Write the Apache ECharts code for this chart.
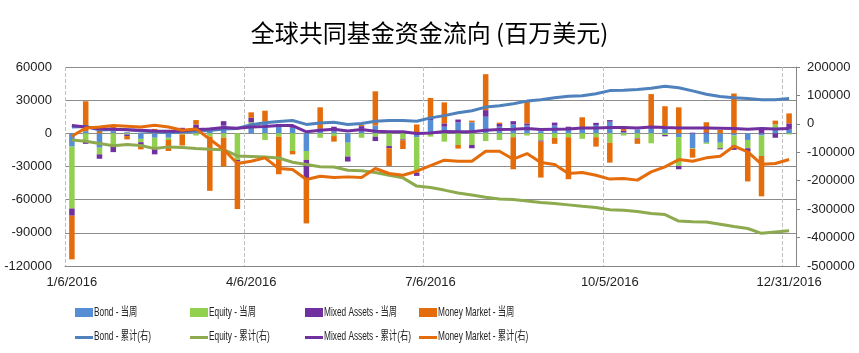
<!DOCTYPE html>
<html>
<head>
<meta charset="utf-8">
<script src="https://cdn.jsdelivr.net/npm/echarts@6/dist/echarts.min.js"></script>
<style>
html,body{margin:0;padding:0;background:#fff;}
#main{width:859px;height:353px;}
</style>
</head>
<body>
<div id="main"></div>
<script>
var dates = ['1/6/2016','1/13/2016','1/20/2016','1/27/2016','2/3/2016','2/10/2016','2/17/2016','2/24/2016','3/2/2016','3/9/2016',
	'3/16/2016','3/23/2016','3/30/2016','4/6/2016','4/13/2016','4/20/2016','4/27/2016','5/4/2016','5/11/2016','5/18/2016',
	'5/25/2016','6/1/2016','6/8/2016','6/15/2016','6/22/2016','6/29/2016','7/6/2016','7/13/2016','7/20/2016','7/27/2016',
	'8/3/2016','8/10/2016','8/17/2016','8/24/2016','8/31/2016','9/7/2016','9/14/2016','9/21/2016','9/28/2016','10/5/2016',
	'10/12/2016','10/19/2016','10/26/2016','11/2/2016','11/9/2016','11/16/2016','11/23/2016','11/30/2016','12/7/2016','12/14/2016',
	'12/21/2016','12/28/2016','12/31/2016'];

// weekly flows (left axis)
var bondWeek = [-12000,2000,-13000,2000,1000,-5000,-4000,-4000,2000,4000,
	2000,7000,0,7000,9000,6000,5000,-16000,3000,3000,
	-8500,4500,7000,0,0,-3500,12000,6000,10000,10000,
	15000,6000,8000,7000,2000,7000,4000,4500,7500,10500,
	1000,3500,5000,6000,-3500,-13500,-8500,-8500,-2000,-6000,
	-2000,4000,4000];
var equityWeek = [-56000,-6000,-6000,-11000,-1000,-3000,-10000,-2000,-1000,-2000,
	-3000,-4000,-24000,3000,-6000,-3000,-16000,-8000,-4000,-2500,
	-12500,-4000,-3000,-11500,-5500,-32000,-3000,-7500,-10500,-10500,
	-7000,-6000,-3500,-2000,-6500,-4000,-3500,-5000,-3500,-8500,
	-2000,-4500,-9000,-1500,-26000,-500,-1000,-5000,-9000,-7500,
	-18500,4000,-1000];
var mixedWeek = [-6500,-3500,-4000,-6000,-1500,-2500,-5000,3000,3000,4000,
	3000,4000,-1500,4000,1500,2500,1000,-16500,1500,3000,
	-4500,2000,-4000,-2000,-700,-3000,2000,3000,2500,-3000,
	6000,2500,3000,2000,-1000,2700,2000,1000,2000,1500,
	1200,-500,1500,-1200,-3000,600,1000,-1000,-4000,-3000,
	3000,-4000,5000];
var moneyWeek = [-39500,27000,3500,4000,-3000,-4000,4000,-10000,-10000,4000,
	-49000,-26000,-43000,5000,10000,-34000,-3000,-41000,19000,-5000,
	0,1000,31000,-16000,-8000,8000,18000,19000,-3300,1500,
	32500,1200,-29000,19500,-32500,-5500,-38000,9000,-8500,-18000,
	2000,-4500,29000,18500,23500,-8000,9000,3000,36000,-27000,
	-36500,3500,9000];

// cumulative (right axis)
var bondCum = [-11000,-9000,-22000,-20000,-20000,-25000,-28000,-31000,-29000,-25000,
	-23000,-18000,-16000,-3000,4000,8000,12000,-2000,3000,6000,
	-2000,1000,9000,12000,12000,9000,21000,29000,39000,46000,
	59000,64000,71000,80000,85000,92000,97000,99000,106000,117000,
	118000,121000,125000,132000,127000,116000,104000,96000,92000,89000,
	85000,85000,89000];
var equityCum = [-57000,-61000,-69000,-77000,-73000,-76000,-87000,-81000,-83000,-87000,
	-89000,-91000,-113000,-115000,-117000,-120000,-135000,-143000,-151000,-152000,
	-163000,-165000,-171000,-181000,-190000,-219000,-224000,-233000,-243000,-250000,
	-258000,-264000,-266000,-271000,-277000,-280000,-285000,-290000,-294000,-302000,
	-304000,-308000,-315000,-319000,-342000,-344000,-345000,-353000,-361000,-368000,
	-385000,-380000,-376000];
var mixedCum = [-6000,-11000,-17000,-19000,-21000,-22500,-25000,-26000,-25000,-20000,
	-18000,-13000,-15500,-11000,-9500,-6000,-6000,-28000,-22500,-19000,
	-25000,-20000,-26000,-28000,-28000,-34000,-32000,-27000,-28000,-28000,
	-22500,-20000,-19000,-16500,-20000,-19000,-18000,-14500,-14500,-13000,
	-13000,-14500,-11000,-13000,-14500,-14500,-14500,-15500,-16500,-19000,
	-16500,-18000,-16500];
var moneyCum = [-43500,-14300,-10800,-6000,-8400,-10800,-4900,-10800,-22500,-17800,
	-54000,-90000,-139600,-131400,-119600,-157000,-160700,-195800,-184100,-188800,
	-186500,-188800,-157000,-174700,-180600,-166500,-146600,-127900,-131400,-131400,
	-96300,-96300,-124400,-104500,-136100,-143100,-174700,-171200,-180600,-194400,
	-192100,-197900,-169000,-151300,-125600,-131400,-119600,-113700,-78700,-98600,
	-141900,-139600,-125600];

var barNames = ['Bond - 当周','Equity - 当周','Mixed Assets - 当周','Money Market - 当周'];
var lineNames = ['Bond - 累计(右)','Equity - 累计(右)','Mixed Assets - 累计(右)','Money Market - 累计(右)'];
var barColors = ['#558ED5','#92D050','#7030A0','#E46C0A'];
var lineColors = ['#4F81BD','#8DAA4F','#7030A0','#E46C0A'];

var labelFont = "'Liberation Sans', Arial, sans-serif";
var legendX = [75, 190, 305, 419];

// legend drawn as graphic items so the narrow text can be squeezed like the original
var legendItems = [];
for(var i = 0 ; i < 4 ; i++){
	legendItems.push({type: 'rect', left: legendX[i], top: 308, shape: {width: 18, height: 9}, style: {fill: barColors[i]}});
	legendItems.push({type: 'text', x: legendX[i] + 19, y: 313, scaleX: 0.69,
		style: {text: barNames[i], fill: '#222', font: "12px 'Liberation Sans', 'Noto Sans CJK SC', sans-serif", verticalAlign: 'middle'}});
	legendItems.push({type: 'rect', left: legendX[i], top: 336, shape: {width: 18, height: 3}, style: {fill: lineColors[i]}});
	legendItems.push({type: 'text', x: legendX[i] + 19, y: 337, scaleX: 0.69,
		style: {text: lineNames[i], fill: '#222', font: "12px 'Liberation Sans', 'Noto Sans CJK SC', sans-serif", verticalAlign: 'middle'}});
}

var weekData = [bondWeek, equityWeek, mixedWeek, moneyWeek];
var cumData = [bondCum, equityCum, mixedCum, moneyCum];
var series = [];
for(var i = 0 ; i < 4 ; i++){
	series.push({
		name: barNames[i], type: 'bar', stack: 'week', yAxisIndex: 0,
		barWidth: '40%', data: weekData[i],
		itemStyle: {color: barColors[i]}
	});
}
for(var i = 0 ; i < 4 ; i++){
	series.push({
		name: lineNames[i], type: 'line', yAxisIndex: 1, symbol: 'none',
		data: cumData[i], z: 5,
		itemStyle: {color: lineColors[i]},
		lineStyle: {color: lineColors[i], width: 3}
	});
}

function plain(v){ return String(v); }

var myChart = echarts.init(document.getElementById('main'));
var option = {
	animation: false,
	backgroundColor: '#fff',
	title: {
		text: '全球共同基金资金流向 (百万美元)',
		left: 'center', top: 16,
		textStyle: {fontFamily: "'Noto Sans CJK SC', sans-serif", fontSize: 24, fontWeight: 'normal', color: '#000'}
	},
	graphic: legendItems,
	grid: {left: 65, right: 63, top: 67, bottom: 87},
	xAxis: {
		type: 'category', data: dates, boundaryGap: true,
		axisLine: {onZero: false, lineStyle: {color: '#868686'}},
		axisTick: {show: false},
		axisLabel: {interval: 12, margin: 10, fontFamily: labelFont, fontSize: 13, color: '#222'},
		splitLine: {show: true, interval: 12, lineStyle: {color: '#BFBFBF', type: 'dashed', width: 1}}
	},
	yAxis: [{
		type: 'value', min: -120000, max: 60000, interval: 30000,
		axisLine: {show: false}, axisTick: {show: false},
		axisLabel: {margin: 13, formatter: plain, fontFamily: labelFont, fontSize: 13, color: '#222'},
		splitLine: {lineStyle: {color: '#8C8C8C', width: 1}}
	},{
		type: 'value', min: -500000, max: 200000, interval: 100000, position: 'right',
		axisLine: {show: true, lineStyle: {color: '#868686'}},
		axisTick: {show: true, length: 4, lineStyle: {color: '#868686'}},
		axisLabel: {margin: 11, formatter: plain, fontFamily: labelFont, fontSize: 13, color: '#222'},
		splitLine: {show: false}
	}],
	series: series
};
myChart.setOption(option);
</script>
</body>
</html>
